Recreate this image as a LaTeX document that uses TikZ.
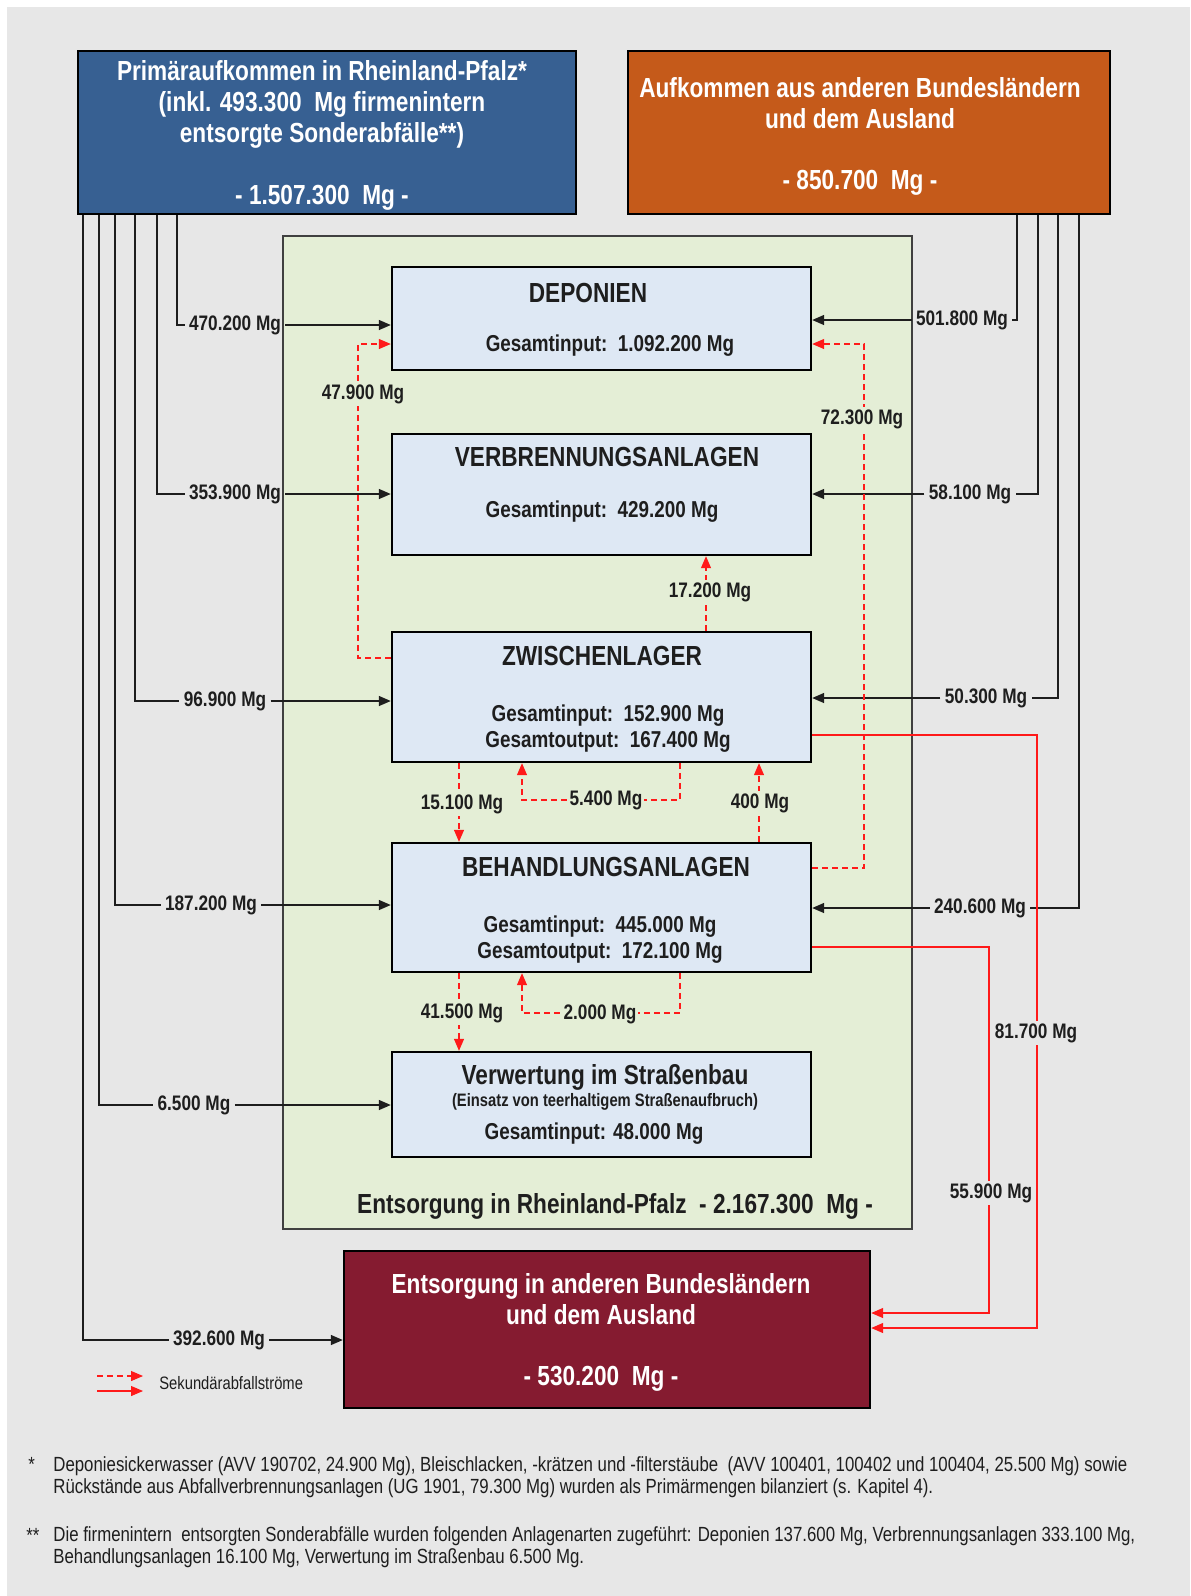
\documentclass[tikz,border=0pt]{standalone}
\usepackage{fontspec}
\setmainfont{Liberation Sans}[FakeStretch=0.82]
\usetikzlibrary{arrows.meta,calc}
\definecolor{PageGray}{HTML}{E7E7E7}
\definecolor{PrimBlue}{HTML}{376092}
\definecolor{ImportOrange}{HTML}{C55A1A}
\definecolor{RlpGreen}{HTML}{E4EED6}
\definecolor{PlantBlue}{HTML}{DEE8F4}
\definecolor{ExportRed}{HTML}{851B30}
\definecolor{SecRed}{HTML}{FF1A1A}
\definecolor{InkBlack}{HTML}{1E1E1E}

\begin{document}
\begin{tikzpicture}[x=0.5pt,y=-0.5pt,
  box/.style={draw=black, line width=1.2pt, inner sep=0pt},
  plant/.style={box, fill=PlantBlue, minimum width=209.5pt},
  headline/.style={font=\fontsize{13.8}{15.5}\selectfont\bfseries, align=center, text=InkBlack},
  total/.style={font=\fontsize{11.5}{13}\selectfont\bfseries, align=center, text=InkBlack},
  amount/.style={font=\fontsize{10.5}{12}\selectfont\bfseries, inner sep=2pt, text=InkBlack},
  secamount/.style={amount, inner sep=1pt},
  link/.style={line width=0.7pt, draw=InkBlack},
  flow/.style={link, -{Triangle[length=6pt,width=5pt]}},
  secdash/.style={SecRed, line width=0.6pt, dash pattern=on 3pt off 2pt, -{Triangle[length=6pt,width=5pt]}},
  secline/.style={SecRed, line width=0.6pt, -{Triangle[length=6pt,width=5pt]}},
  note/.style={font=\fontsize{10.25}{11}\selectfont, align=left, anchor=west, inner sep=0pt, text=InkBlack}]

  \useasboundingbox (0,0) rectangle (1190,1596);
  \fill[PageGray] (7,7) rectangle (1190,1596);

  % Quellen
  \node[box, fill=PrimBlue, minimum width=249pt, minimum height=81.5pt] (prim) at (327,132.5) {};
  \node[box, fill=ImportOrange, minimum width=241pt, minimum height=81.5pt] (ausl) at (869,132.5) {};
  \node[headline, text=white] (prim-txt) at (322,135)
    {Primäraufkommen in Rheinland-Pfalz*\\(inkl. 493.300~~Mg firmenintern\\entsorgte Sonderabfälle**)\\[15.5pt]- 1.507.300~~Mg -};
  \node[headline, text=white] (ausl-txt) at (860,136)
    {Aufkommen aus anderen Bundesländern\\und dem Ausland\\[15pt]- 850.700~~Mg -};

  % Entsorgung in Rheinland-Pfalz
  \node[draw=black!75, line width=0.8pt, fill=RlpGreen, inner sep=0pt,
        minimum width=314.5pt, minimum height=496.5pt] (rlp) at (597.5,732.5) {};
  \node[plant, minimum height=51.5pt] (dep) at (601.5,318.5) {};
  \node[plant, minimum height=60.5pt] (verb) at (601.5,494.5) {};
  \node[plant, minimum height=65pt] (zw) at (601.5,697) {};
  \node[plant, minimum height=64.5pt] (beh) at (601.5,907.5) {};
  \node[plant, minimum height=52.5pt] (stb) at (601.5,1104.5) {};

  \node[headline] (dep-t) at (588,293) {DEPONIEN};
  \node[total] (dep-in) at (610,346) {Gesamtinput:~~1.092.200 Mg};
  \node[headline] (verb-t) at (607,457) {VERBRENNUNGSANLAGEN};
  \node[total] (verb-in) at (602,512) {Gesamtinput:~~429.200 Mg};
  \node[headline] (zw-t) at (602,656) {ZWISCHENLAGER};
  \node[total] (zw-in) at (608,729) {Gesamtinput:~~152.900 Mg\\Gesamtoutput:~~167.400 Mg};
  \node[headline] (beh-t) at (606,867) {BEHANDLUNGSANLAGEN};
  \node[total] (beh-in) at (600,940) {Gesamtinput:~~445.000 Mg\\Gesamtoutput:~~172.100 Mg};
  \node[headline] (stb-t) at (605,1077) {Verwertung im Straßenbau};
  \node[font=\fontsize{9}{10}\selectfont\bfseries, text=InkBlack] (stb-sub) at (605,1102)
    {(Einsatz von teerhaltigem Straßenaufbruch)};
  \node[total] (stb-in) at (594,1134) {Gesamtinput: 48.000 Mg};
  \node[headline] (rlp-t) at (615,1206) {Entsorgung in Rheinland-Pfalz~~- 2.167.300~~Mg -};

  % Entsorgung ausserhalb
  \node[box, fill=ExportRed, minimum width=263pt, minimum height=78.5pt] (ext) at (607,1329.5) {};
  \node[headline, text=white] (ext-txt) at (601,1332)
    {Entsorgung in anderen Bundesländern\\und dem Ausland\\[15pt]- 530.200~~Mg -};

  % Primaeraufkommen -> Anlagen
  \foreach \lane/\lx/\ly/\val/\dst [count=\i] in {177/235/325/470.200/dep, 157/235/494/353.900/verb,
      135/225/701/96.900/zw, 115/211/905/187.200/beh, 99/194/1105/6.500/stb, 83/219/1340/392.600/ext}{
    \coordinate (pl\i) at (\lane,0);
    \node[amount] (pin\i) at (\lx,\ly) {\val\ Mg};
    \draw[link] (prim.south -| pl\i) |- (pin\i.west);
    \draw[flow] (pin\i.east) -- (pin\i.east -| \dst.west);
  }

  % Aufkommen von ausserhalb -> Anlagen
  \foreach \lane/\lx/\ly/\val/\dst [count=\i] in {1017/962/320/501.800/dep, 1038/970/494/58.100/verb,
      1058/986/698/50.300/zw, 1079/980/908/240.600/beh}{
    \coordinate (al\i) at (\lane,0);
    \node[amount] (ain\i) at (\lx,\ly) {\val\ Mg};
    \draw[link] (ausl.south -| al\i) |- (ain\i.east);
    \draw[flow] (ain\i.west) -- (ain\i.west -| \dst.east);
  }

  % Sekundaerabfallstroeme
  \coordinate (s1a) at (358,658);
  \coordinate (s1b) at (358,344);
  \draw[secdash] (zw.west |- s1a) -- (s1a) -- (s1b) -- (s1b -| dep.west);
  \node[secamount, fill=RlpGreen] (s1-lbl) at (363,394) {47.900 Mg};

  \coordinate (s2a) at (864,868);
  \coordinate (s2b) at (864,344);
  \draw[secdash] (beh.east |- s2a) -- (s2a) -- (s2b) -- (s2b -| dep.east);
  \node[secamount, fill=RlpGreen] (s2-lbl) at (862,419) {72.300 Mg};

  \coordinate (s3) at (706,0);
  \draw[secdash] (zw.north -| s3) -- (verb.south -| s3);
  \node[secamount, fill=RlpGreen] (s3-lbl) at (710,592) {17.200 Mg};

  \coordinate (s4) at (459,0);
  \draw[secdash] (zw.south -| s4) -- (beh.north -| s4);
  \node[secamount, fill=RlpGreen] (s4-lbl) at (462,804) {15.100 Mg};
  \draw[secdash] (beh.south -| s4) -- (stb.north -| s4);
  \node[secamount, fill=RlpGreen] (s5-lbl) at (462,1013) {41.500 Mg};

  \coordinate (s6) at (759,0);
  \draw[secdash] (beh.north -| s6) -- (zw.south -| s6);
  \node[secamount, fill=RlpGreen] (s6-lbl) at (760,803) {400 Mg};

  \coordinate (s7a) at (680,800);
  \coordinate (s7b) at (522,800);
  \draw[secdash] (zw.south -| s7a) -- (s7a) -- (s7b) -- (zw.south -| s7b);
  \node[secamount, fill=RlpGreen] (s7-lbl) at (606,800) {5.400 Mg};

  \coordinate (s8a) at (680,1013);
  \coordinate (s8b) at (522,1013);
  \draw[secdash] (beh.south -| s8a) -- (s8a) -- (s8b) -- (beh.south -| s8b);
  \node[secamount, fill=RlpGreen] (s8-lbl) at (600,1014) {2.000 Mg};

  \coordinate (s9a) at (989,947);
  \coordinate (s9b) at (989,1313);
  \draw[secline] (beh.east |- s9a) -- (s9a) -- (s9b) -- (s9b -| ext.east);
  \node[secamount, fill=PageGray] (s9-lbl) at (991,1193) {55.900 Mg};

  \coordinate (s10a) at (1037,735);
  \coordinate (s10b) at (1037,1328);
  \draw[secline] (zw.east |- s10a) -- (s10a) -- (s10b) -- (s10b -| ext.east);
  \node[secamount, fill=PageGray] (s10-lbl) at (1036,1033) {81.700 Mg};

  % Legende
  \coordinate (leg-a) at (97,1376);
  \coordinate (leg-b) at (143,1376);
  \coordinate (leg-c) at (97,1391);
  \coordinate (leg-d) at (143,1391);
  \draw[secdash] (leg-a) -- (leg-b);
  \draw[secline] (leg-c) -- (leg-d);
  \node[font=\fontsize{9}{10}\selectfont, anchor=west, inner sep=0pt, text=InkBlack] (leg-txt) at (159,1383)
    {Sekundärabfallströme};

  % Fussnoten
  \node[note] (fn1-mark) at (28,1464) {*};
  \node[note] (fn1) at (53,1477)
    {Deponiesickerwasser (AVV 190702, 24.900 Mg), Bleischlacken, -krätzen und -filterstäube~ (AVV 100401, 100402 und 100404, 25.500 Mg) sowie\\
     Rückstände aus Abfallverbrennungsanlagen (UG 1901, 79.300 Mg) wurden als Primärmengen bilanziert (s. Kapitel 4).};
  \node[note] (fn2-mark) at (26,1535) {**};
  \node[note] (fn2) at (53,1547)
    {Die firmenintern~ entsorgten Sonderabfälle wurden folgenden Anlagenarten zugeführt: Deponien 137.600 Mg, Verbrennungsanlagen 333.100 Mg,\\
     Behandlungsanlagen 16.100 Mg, Verwertung im Straßenbau 6.500 Mg.};
\end{tikzpicture}
\end{document}
